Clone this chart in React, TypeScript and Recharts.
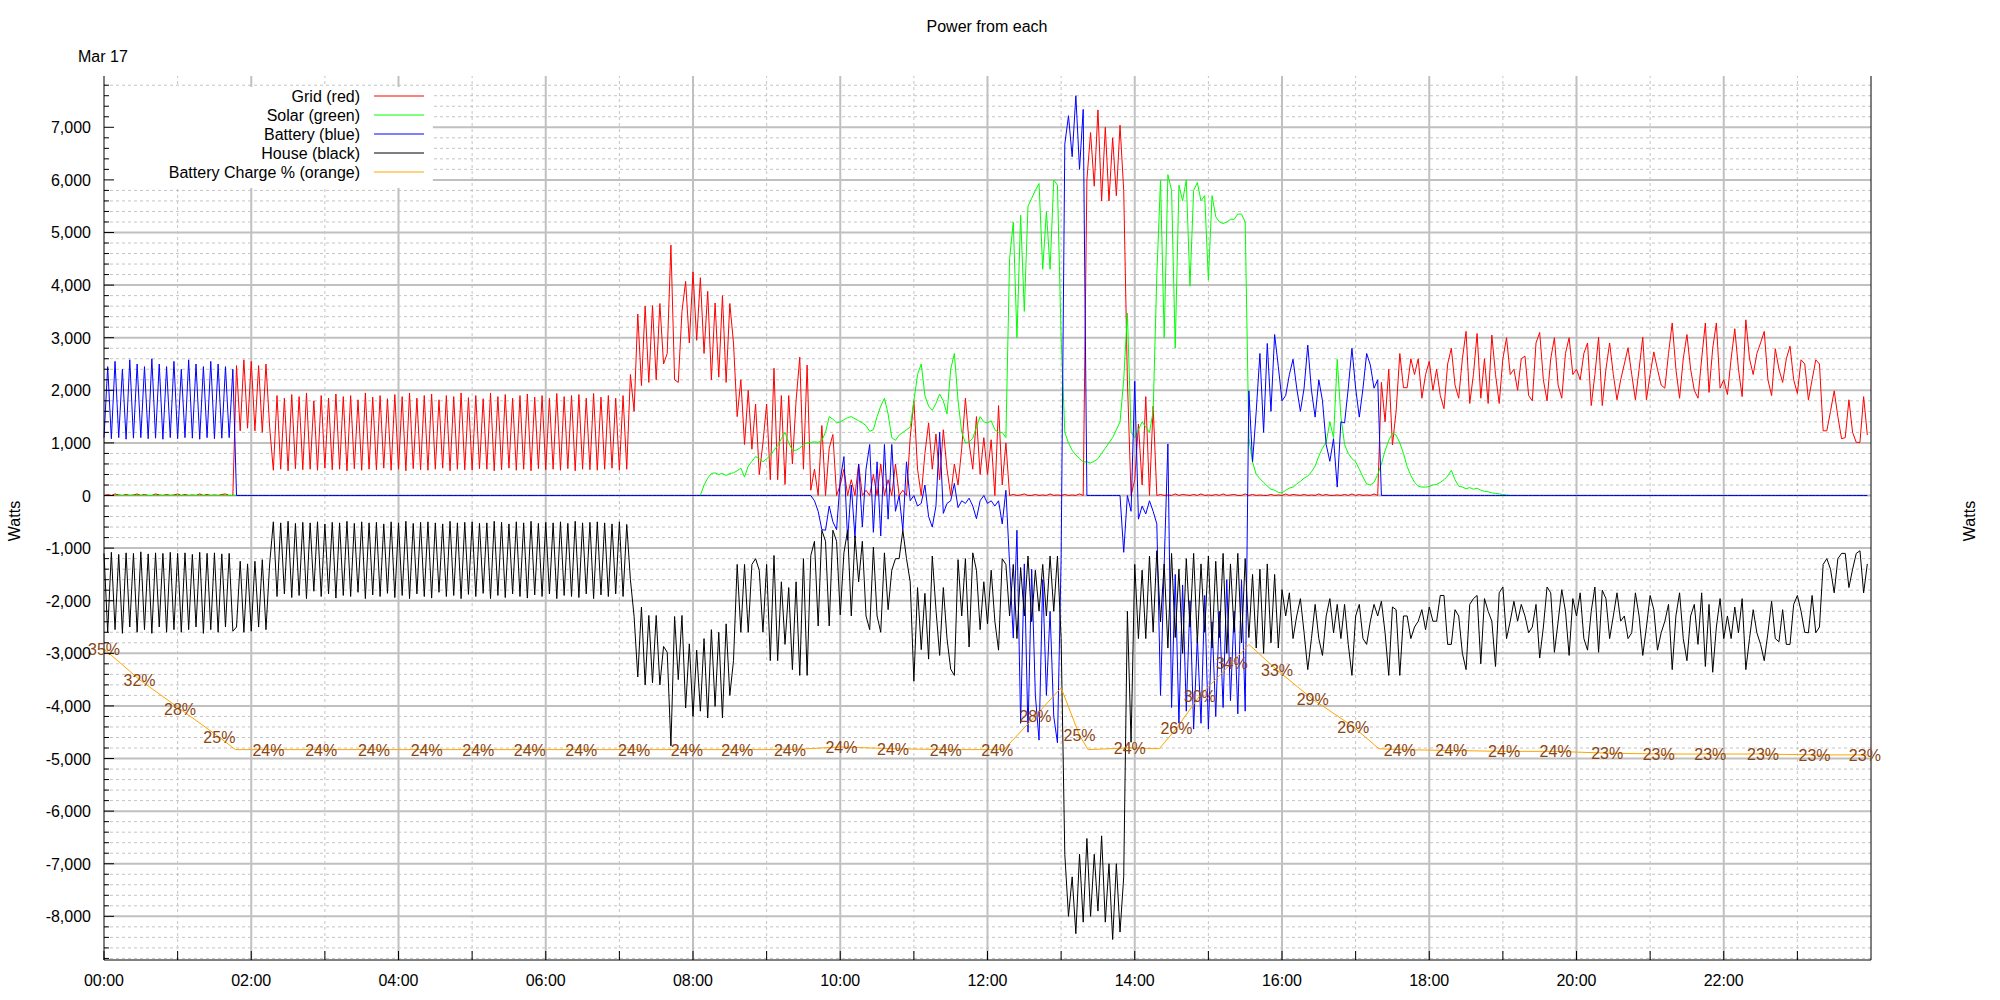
import React from "react";
import {
  LineChart,
  Line,
  XAxis,
  YAxis,
  ReferenceLine,
  ReferenceArea,
  LabelList,
} from "recharts";

// one sample every 3 minutes from 00:00, values in watts (one row = one hour)
const STEP_MIN = 3;

const gridW = [
  0, 20, 0, 30, 10, 0, 20, 0, 10, 30, 0, 20, 0, 0, 30, 10, 0, 20, 0, 10,
  30, 0, 20, 0, 10, 0, 30, 0, 20, 0, 10, 0, 20, 30, 0, 0, 2470, 1230, 2580, 1280,
  2550, 1230, 2470, 1200, 2500, 1300, 480, 1900, 500, 1850, 470, 1920, 510, 1880, 490, 1950, 500, 1800, 480, 1900,
  520, 1850, 490, 1930, 500, 1880, 470, 1900, 510, 1820, 480, 1950, 500, 1870, 490, 1900, 520, 1840, 480, 1920,
  500, 1880, 470, 1950, 510, 1850, 490, 1900, 480, 1930, 500, 1820, 520, 1900, 470, 1880, 500, 1950, 490, 1860,
  480, 1900, 510, 1840, 500, 1950, 470, 1880, 490, 1920, 520, 1850, 480, 1900, 500, 1930, 470, 1870, 510, 1900,
  490, 1850, 500, 1940, 480, 1880, 510, 1900, 470, 1920, 500, 1850, 490, 1940, 480, 1870, 500, 1900, 520, 1850,
  480, 1900, 500, 2300, 1600, 3450, 2090, 3600, 2150, 3610, 2200, 3650, 2500, 2700, 4760, 2200, 2150, 3500, 4070, 2900,
  4250, 2950, 4140, 2700, 3880, 2200, 3660, 2250, 3800, 2150, 3650, 2900, 1500, 2200, 970, 2000, 880, 1740, 400, 1000,
  1740, 300, 2420, 300, 1900, 210, 1900, 600, 1800, 2630, 500, 2480, 100, 500, 0, 1330, 0, 900, 1160, 0,
  200, 500, 0, 300, 0, 600, 0, 100, 0, 400, 0, 600, 0, 300, 0, 600, 0, 100, 0, 1100,
  1800, 500, 0, 800, 1380, 500, 1170, 300, 1250, 500, 0, 600, 200, 900, 1850, 1000, 500, 1500, 400, 1100,
  400, 1060, 0, 1710, 200, 1000, 0, 20, 0, 10, 30, 0, 0, 20, 0, 10, 0, 30, 0, 10,
  0, 20, 0, 10, 0, 30, 0, 6000, 6900, 5880, 7330, 5600, 7000, 5600, 6800, 5700, 7040, 5800, 2200, 0,
  300, 1360, 200, 1880, 0, 1700, 0, 20, 0, 10, 0, 30, 0, 20, 10, 0, 20, 0, 30, 0,
  10, 0, 20, 0, 30, 0, 10, 20, 0, 0, 30, 0, 20, 0, 10, 0, 0, 20, 0, 10,
  0, 30, 0, 20, 10, 0, 20, 0, 10, 0, 30, 0, 20, 0, 0, 10, 0, 20, 0, 30,
  0, 20, 0, 10, 0, 30, 0, 2150, 1400, 2400, 960, 1600, 2700, 2050, 2050, 2600, 2300, 2600, 1850, 2300,
  2550, 2000, 2400, 1900, 1650, 2500, 2800, 2100, 1850, 2600, 3120, 1750, 2300, 3080, 1850, 2600, 1750, 3050, 2300, 1750,
  2600, 3000, 2300, 2400, 2000, 2600, 2650, 1900, 1800, 2900, 3100, 2200, 1800, 2600, 3000, 2100, 1850, 2700, 3000, 2300,
  2400, 2200, 2700, 2900, 1710, 2300, 3010, 1710, 2400, 2900, 2300, 1820, 2200, 2500, 2810, 2300, 1820, 2400, 3010, 1820,
  2300, 2730, 2400, 2100, 2040, 2700, 3280, 2400, 1850, 2600, 3060, 2400, 2000, 1850, 2600, 3280, 1960, 2800, 3280, 2040,
  2200, 1920, 2600, 3170, 2400, 1880, 3340, 2600, 2300, 2700, 2900, 3120, 2200, 1900, 2790, 2400, 2150, 2600, 2840, 2200,
  1940, 2580, 2500, 1820, 2200, 2580, 2500, 1230, 1230, 1600, 1990, 1500, 1080, 1100, 1820, 1200, 1010, 1010, 1880, 1150,
];

const solarW = [
  0, 0, 0, 0, 0, 0, 0, 0, 0, 0, 0, 0, 0, 0, 0, 0, 0, 0, 0, 0,
  0, 0, 0, 0, 0, 0, 0, 0, 0, 0, 0, 0, 0, 0, 0, 0, 0, 0, 0, 0,
  0, 0, 0, 0, 0, 0, 0, 0, 0, 0, 0, 0, 0, 0, 0, 0, 0, 0, 0, 0,
  0, 0, 0, 0, 0, 0, 0, 0, 0, 0, 0, 0, 0, 0, 0, 0, 0, 0, 0, 0,
  0, 0, 0, 0, 0, 0, 0, 0, 0, 0, 0, 0, 0, 0, 0, 0, 0, 0, 0, 0,
  0, 0, 0, 0, 0, 0, 0, 0, 0, 0, 0, 0, 0, 0, 0, 0, 0, 0, 0, 0,
  0, 0, 0, 0, 0, 0, 0, 0, 0, 0, 0, 0, 0, 0, 0, 0, 0, 0, 0, 0,
  0, 0, 0, 0, 0, 0, 0, 0, 0, 0, 0, 0, 0, 0, 0, 0, 0, 0, 0, 0,
  0, 0, 0, 200, 330, 420, 430, 400, 420, 380, 420, 430, 470, 520, 350, 560, 650, 740, 700, 640,
  700, 760, 860, 950, 1080, 1200, 1000, 860, 860, 900, 970, 1000, 1010, 1020, 1010, 1050, 1200, 1500, 1450, 1380,
  1400, 1440, 1480, 1500, 1460, 1420, 1380, 1330, 1220, 1250, 1500, 1700, 1850, 1550, 1100, 1050, 1150, 1200, 1250, 1300,
  1800, 2300, 2500, 1900, 1700, 1620, 1750, 1930, 1800, 1550, 2400, 2700, 1800, 1200, 1000, 1020, 1090, 1300, 1500, 1400,
  1380, 1420, 1250, 1200, 1200, 1100, 4500, 5200, 3000, 5330, 3500, 5500, 5650, 5800, 5930, 4300, 5400, 4300, 6000, 5900,
  3000, 1200, 1000, 860, 770, 700, 640, 640, 620, 650, 700, 800, 900, 1000, 1100, 1250, 1400, 2200, 3470, 1200,
  1100, 1250, 1400, 1300, 1200, 1600, 4200, 6000, 3000, 6100, 5800, 2800, 5900, 5600, 6000, 3980, 5800, 5950, 5600, 5700,
  4100, 5700, 5300, 5200, 5170, 5200, 5250, 5250, 5350, 5350, 5200, 1090, 640, 400, 320, 250, 180, 120, 100, 60,
  50, 100, 140, 160, 220, 270, 330, 370, 450, 560, 750, 900, 1010, 1400, 1100, 2590, 1500, 970, 800, 700,
  640, 500, 350, 220, 200, 250, 400, 600, 850, 1050, 1180, 1150, 1000, 800, 550, 380, 250, 180, 160, 160,
  170, 200, 210, 250, 300, 370, 480, 300, 180, 160, 130, 150, 120, 140, 100, 80, 70, 50, 40, 30,
  20, 10, 0, 0, 0, 0, 0, 0, 0, 0, 0, 0, 0, 0, 0, 0, 0, 0, 0, 0,
  0, 0, 0, 0, 0, 0, 0, 0, 0, 0, 0, 0, 0, 0, 0, 0, 0, 0, 0, 0,
  0, 0, 0, 0, 0, 0, 0, 0, 0, 0, 0, 0, 0, 0, 0, 0, 0, 0, 0, 0,
  0, 0, 0, 0, 0, 0, 0, 0, 0, 0, 0, 0, 0, 0, 0, 0, 0, 0, 0, 0,
  0, 0, 0, 0, 0, 0, 0, 0, 0, 0, 0, 0, 0, 0, 0, 0, 0, 0, 0, 0,
];

const batteryW = [
  1100, 2450, 1080, 2550, 1100, 2400, 1070, 2580, 1090, 2500, 1100, 2450, 1080, 2600, 1090, 2500, 1070, 2450, 1100, 2550,
  1080, 2400, 1100, 2580, 1090, 2500, 1070, 2450, 1100, 2550, 1080, 2500, 1090, 2450, 1100, 2400, 0, 0, 0, 0,
  0, 0, 0, 0, 0, 0, 0, 0, 0, 0, 0, 0, 0, 0, 0, 0, 0, 0, 0, 0,
  0, 0, 0, 0, 0, 0, 0, 0, 0, 0, 0, 0, 0, 0, 0, 0, 0, 0, 0, 0,
  0, 0, 0, 0, 0, 0, 0, 0, 0, 0, 0, 0, 0, 0, 0, 0, 0, 0, 0, 0,
  0, 0, 0, 0, 0, 0, 0, 0, 0, 0, 0, 0, 0, 0, 0, 0, 0, 0, 0, 0,
  0, 0, 0, 0, 0, 0, 0, 0, 0, 0, 0, 0, 0, 0, 0, 0, 0, 0, 0, 0,
  0, 0, 0, 0, 0, 0, 0, 0, 0, 0, 0, 0, 0, 0, 0, 0, 0, 0, 0, 0,
  0, 0, 0, 0, 0, 0, 0, 0, 0, 0, 0, 0, 0, 0, 0, 0, 0, 0, 0, 0,
  0, 0, 0, 0, 0, 0, 0, 0, 0, 0, 0, 0, 0, -100, -300, -650, -660, -200, -500, -650,
  300, 740, -850, 200, -800, 600, -600, 500, 970, -700, 640, -770, 970, -450, 970, -300, 0, -660, 640, -100,
  0, -200, -150, 200, -400, -600, -200, 1200, -340, -150, -100, 230, -230, -100, -150, -50, -200, -440, -100, 0,
  -150, -100, -200, -100, -540, 100, -1300, -2710, -660, -4330, -1300, -4500, -1400, -3800, -4650, -1600, -3800, -2200, -4200, -4700,
  -1200, 6680, 7220, 6440, 7600, 6200, 7340, 0, 0, 0, 0, 0, 0, 0, 0, 0, 0, -1080, 0, -300,
  2170, -450, -200, -350, -100, -300, -540, -3800, -1300, 980, -4030, -1500, -4330, -1700, -4100, -2000, -4440, -2700, -4330, -1900,
  -4440, -2400, -4200, -2200, -4030, -1600, -3900, -2200, -4150, -1600, -4100, 1990, 640, 1600, 2700, 1200, 2890, 1600, 3060, 2450,
  1800, 1900, 2300, 2590, 2040, 1600, 2040, 2860, 2000, 1490, 2200, 1800, 970, 650, 1080, 160, 1400, 1380, 2040, 2800,
  2040, 1490, 2040, 2700, 2480, 2040, 2200, 0, 0, 0, 0, 0, 0, 0, 0, 0, 0, 0, 0, 0,
  0, 0, 0, 0, 0, 0, 0, 0, 0, 0, 0, 0, 0, 0, 0, 0, 0, 0, 0, 0,
  0, 0, 0, 0, 0, 0, 0, 0, 0, 0, 0, 0, 0, 0, 0, 0, 0, 0, 0, 0,
  0, 0, 0, 0, 0, 0, 0, 0, 0, 0, 0, 0, 0, 0, 0, 0, 0, 0, 0, 0,
  0, 0, 0, 0, 0, 0, 0, 0, 0, 0, 0, 0, 0, 0, 0, 0, 0, 0, 0, 0,
  0, 0, 0, 0, 0, 0, 0, 0, 0, 0, 0, 0, 0, 0, 0, 0, 0, 0, 0, 0,
  0, 0, 0, 0, 0, 0, 0, 0, 0, 0, 0, 0, 0, 0, 0, 0, 0, 0, 0, 0,
];

const houseW = [
  -1100, -2600, -1080, -2550, -1120, -2620, -1090, -2500, -1100, -2600, -1070, -2550, -1110, -2620, -1090, -2500, -1100, -2600, -1080, -2550,
  -1100, -2600, -1090, -2550, -1120, -2500, -1080, -2620, -1100, -2550, -1090, -2600, -1110, -2500, -1100, -2580, -2500, -1250, -2600, -1300,
  -2580, -1250, -2500, -1220, -2550, -1300, -500, -1920, -520, -1870, -490, -1940, -530, -1900, -510, -1960, -520, -1820, -500, -1920,
  -540, -1870, -510, -1950, -520, -1900, -490, -1920, -530, -1840, -500, -1960, -520, -1890, -510, -1920, -540, -1860, -500, -1940,
  -520, -1900, -490, -1960, -530, -1870, -510, -1920, -500, -1950, -520, -1840, -540, -1920, -490, -1900, -520, -1960, -510, -1880,
  -500, -1920, -530, -1860, -520, -1960, -490, -1900, -510, -1940, -540, -1870, -500, -1920, -520, -1950, -490, -1890, -530, -1920,
  -510, -1870, -520, -1960, -500, -1900, -530, -1920, -490, -1940, -520, -1870, -510, -1960, -500, -1890, -520, -1920, -540, -1870,
  -500, -1920, -550, -1600, -2300, -3450, -2120, -3600, -2280, -3560, -2280, -3600, -2870, -2980, -4760, -2300, -3500, -2280, -4040, -2820,
  -4200, -2940, -4100, -2720, -4230, -2550, -4010, -2600, -4230, -2440, -3800, -3140, -1310, -2600, -1310, -2600, -1310, -1200, -1420, -2600,
  -1310, -3140, -1140, -3140, -1640, -2830, -1750, -3310, -1640, -3420, -1200, -3420, -1140, -870, -2480, -660, -870, -2480, -660, -870,
  -2270, -1090, -660, -2290, -770, -1640, -870, -2290, -2550, -980, -2290, -2600, -1090, -2170, -1420, -1200, -1200, -660, -1200, -1640,
  -3530, -1750, -2930, -1860, -3110, -1150, -2170, -3040, -1750, -2720, -3300, -3420, -1220, -2290, -1200, -2880, -1090, -1420, -2550, -1640,
  -2440, -1420, -2390, -2940, -1200, -1310, -2290, -1310, -2720, -1370, -2290, -1150, -2400, -1420, -2200, -1310, -2290, -1150, -2200, -1150,
  -2720, -6820, -8000, -7250, -8330, -6820, -8110, -6520, -8000, -6820, -7900, -6470, -8110, -7000, -8440, -7000, -8300, -7250, -2200, -4690,
  -1310, -2720, -1420, -2720, -1150, -2600, -1050, -2400, -1300, -2900, -1100, -2700, -1400, -3000, -1200, -2500, -1100, -2800, -1300, -2600,
  -1150, -2900, -1250, -2700, -1100, -3000, -1300, -2600, -1100, -2800, -1200, -2700, -1500, -2900, -1400, -3000, -1300, -2800, -1500, -2900,
  -1790, -2290, -1850, -2720, -2290, -1960, -2610, -3310, -2720, -2070, -2720, -3040, -2290, -1960, -2610, -2070, -2720, -2070, -2830, -3420,
  -2290, -2070, -2720, -2830, -2390, -2070, -2290, -2010, -2610, -3420, -2120, -2170, -3420, -2290, -2290, -2720, -2500, -2390, -2170, -2550,
  -2120, -2390, -2390, -1900, -1900, -2830, -2830, -2170, -2290, -3000, -3310, -2070, -1960, -1900, -3200, -1960, -2200, -2390, -3250, -1850,
  -1740, -2720, -2390, -2010, -2390, -2070, -2290, -2610, -2500, -2070, -3090, -2500, -1740, -1850, -2980, -2400, -1790, -2200, -3040, -1960,
  -2290, -1850, -2720, -2940, -2200, -1740, -2980, -1800, -1960, -2720, -2290, -1850, -2390, -2290, -2720, -2610, -1850, -2290, -3040, -2500,
  -1900, -2170, -2940, -2610, -2390, -2070, -3310, -2290, -1850, -2720, -3140, -2290, -2070, -2830, -1850, -3250, -2070, -3360, -2500, -1960,
  -2720, -2290, -2720, -2120, -2610, -1960, -3310, -2720, -2170, -2610, -2830, -3140, -2610, -2010, -2720, -2780, -2170, -2830, -2830, -2070,
  -1900, -2200, -2600, -2610, -1900, -2610, -2500, -1310, -1200, -1400, -1850, -1200, -1100, -1100, -1750, -1400, -1100, -1050, -1850, -1300,
];

// battery state of charge: minutes since midnight, percent, label shown on the curve
const chargeTimes = [
  0, 29, 62, 94, 107, 134, 177, 220, 263, 305, 347, 389, 432, 475, 516, 559, 601, 643, 686, 728,
  734, 759, 780, 795, 802, 836, 860, 874, 893, 919, 933, 956, 985, 1018, 1039, 1056, 1098, 1141, 1183,
  1225, 1267, 1309, 1352, 1394, 1435, 1437,
];
const chargePct = [
  35.2, 31.7, 28.4, 25.2, 23.8, 23.8, 23.8, 23.8, 23.8, 23.8, 23.8, 23.8, 23.8, 23.8, 23.8, 23.8, 24.1, 23.9, 23.8, 23.8,
  23.9, 27.6, 30.8, 25.4, 23.8, 24.0, 23.9, 26.2, 29.9, 33.6, 35.7, 32.8, 29.5, 26.4, 23.9, 23.8, 23.7, 23.6, 23.6,
  23.4, 23.3, 23.3, 23.3, 23.2, 23.2, 23.2,
];
const chargeLabels = [
  "35%", "32%", "28%", "25%", "", "24%", "24%", "24%", "24%", "24%", "24%", "24%", "24%", "24%", "24%", "24%", "24%", "24%", "24%", "24%",
  "", "28%", "", "25%", "", "24%", "", "26%", "30%", "34%", "", "33%", "29%", "26%", "", "24%", "24%", "24%", "24%",
  "23%", "23%", "23%", "23%", "23%", "23%", "",
];

const xTicks = [0, 60, 120, 180, 240, 300, 360, 420, 480, 540, 600, 660, 720, 780, 840, 900, 960, 1020, 1080, 1140, 1200, 1260, 1320, 1380];
const yTicks = Array.from({ length: 84 }, (_, k) => -8800 + k * 200);

const legendItems = [
  { name: "Grid (red)", color: "#ff0000" },
  { name: "Solar (green)", color: "#00ff00" },
  { name: "Battery (blue)", color: "#0000ff" },
  { name: "House (black)", color: "#000000" },
  { name: "Battery Charge % (orange)", color: "#ffa500" },
];

const rows = gridW.map((g, i) => ({
  t: i * STEP_MIN,
  grid: g,
  solar: solarW[i],
  battery: batteryW[i],
  house: houseW[i],
}));

const chargeRows = chargeTimes.map((t, i) => ({ t, pct: chargePct[i], label: chargeLabels[i] }));

const FONT = '"Liberation Sans", Arial, Helvetica, sans-serif';
const Y_DOMAIN: [number, number] = [-8830, 7975];
const GRID_MAJOR = "#c0c0c0";
const GRID_MINOR = "#c4c4c4";

const isMajorY = (v: number) => v % 1000 === 0;
const fmtWatts = (v: number) => v.toLocaleString("en-US");
const fmtHour = (m: number) => `${String(Math.floor(m / 60)).padStart(2, "0")}:00`;

const LeftTick = (props: any) => {
  const { x, y, payload } = props;
  const v = payload.value as number;
  const major = isMajorY(v);
  return (
    <g>
      <line x1={x} y1={y} x2={x + (major ? 10 : 5)} y2={y} stroke="#000" />
      {major && (
        <text x={x - 13} y={y + 6} textAnchor="end" fontSize={16} fontFamily={FONT} fill="#000">
          {fmtWatts(v)}
        </text>
      )}
    </g>
  );
};

const RightTick = (props: any) => {
  const { x, y, payload } = props;
  const v = payload.value as number;
  const major = isMajorY(v);
  return (
    <g>
      <line x1={x} y1={y} x2={x - (major ? 10 : 5)} y2={y} stroke="#000" />
      {major && (
        <text x={x + 11} y={y + 6} textAnchor="start" fontSize={16} fontFamily={FONT} fill="#000">
          {fmtWatts(v)}
        </text>
      )}
    </g>
  );
};

const BottomTick = (props: any) => {
  const { x, y, payload } = props;
  const m = payload.value as number;
  const major = m % 120 === 0;
  return (
    <g>
      <line x1={x} y1={y} x2={x} y2={y - 9} stroke="#000" />
      {major && (
        <text x={x} y={y + 26} textAnchor="middle" fontSize={16} fontFamily={FONT} fill="#000">
          {fmtHour(m)}
        </text>
      )}
    </g>
  );
};

const TopTick = (props: any) => {
  const { x, y, payload } = props;
  const major = (payload.value as number) % 120 === 0;
  return <line x1={x} y1={y} x2={x} y2={y + (major ? 10 : 5)} stroke="#000" />;
};

const ChargeLabel = (props: any) => {
  const { value } = props;
  const x = props.x ?? props.viewBox?.x;
  const y = props.y ?? props.viewBox?.y;
  if (!value) return null;
  return (
    <text x={x} y={y + 6} textAnchor="middle" fontSize={16} fontFamily={FONT} fill="#8b4513">
      {value}
    </text>
  );
};

export default function App() {
  return (
    <div style={{ position: "absolute", left: 0, top: 0, width: 2000, height: 1000, background: "#fff", fontFamily: FONT }}>
      <LineChart width={2000} height={1000} data={rows} margin={{ top: 76, right: 0, bottom: 0, left: 0 }}>
        {yTicks.map((v) => (
          <ReferenceLine
            key={`gy${v}`}
            xAxisId="b"
            yAxisId="left"
            y={v}
            stroke={isMajorY(v) ? GRID_MAJOR : GRID_MINOR}
            strokeWidth={isMajorY(v) ? 2 : 1}
            strokeDasharray={isMajorY(v) ? undefined : "3 3"}
            zIndex={-100}
          />
        ))}
        {xTicks.slice(1).map((m) => (
          <ReferenceLine
            key={`gx${m}`}
            xAxisId="b"
            yAxisId="left"
            x={m}
            stroke={m % 120 === 0 ? GRID_MAJOR : GRID_MINOR}
            strokeWidth={m % 120 === 0 ? 2 : 1}
            strokeDasharray={m % 120 === 0 ? undefined : "3 3"}
            zIndex={-100}
          />
        ))}
        {/* white box behind the key */}
        <ReferenceArea xAxisId="b" yAxisId="left" x1={0} x2={268} y1={5846} y2={7766} fill="#fff" fillOpacity={1} stroke="none" zIndex={-50} />

        <Line type="linear" dataKey="grid" name="Grid (red)" xAxisId="b" yAxisId="left" stroke="#ff0000" strokeWidth={1} dot={false} isAnimationActive={false} />
        <Line type="linear" dataKey="solar" name="Solar (green)" xAxisId="b" yAxisId="left" stroke="#00ff00" strokeWidth={1} dot={false} isAnimationActive={false} />
        <Line type="linear" dataKey="battery" name="Battery (blue)" xAxisId="b" yAxisId="left" stroke="#0000ff" strokeWidth={1} dot={false} isAnimationActive={false} />
        <Line type="linear" dataKey="house" name="House (black)" xAxisId="b" yAxisId="left" stroke="#000000" strokeWidth={1} dot={false} isAnimationActive={false} />
        <Line
          type="linear"
          data={chargeRows}
          dataKey="pct"
          name="Battery Charge % (orange)"
          xAxisId="b"
          yAxisId="pct"
          stroke="#ffa500"
          strokeWidth={1}
          dot={false}
          isAnimationActive={false}
        >
          <LabelList dataKey="label" content={ChargeLabel} />
        </Line>

        <XAxis
          xAxisId="b"
          dataKey="t"
          type="number"
          domain={[0, 1440]}
          ticks={xTicks}
          interval={0}
          height={40}
          tickSize={0}
          tickMargin={0}
          tickLine={false}
          axisLine={{ stroke: "#000" }}
          tick={BottomTick}
        />
        <XAxis
          xAxisId="t"
          orientation="top"
          dataKey="t"
          type="number"
          domain={[0, 1440]}
          ticks={xTicks}
          interval={0}
          height={0}
          tickSize={0}
          tickMargin={0}
          tickLine={false}
          axisLine={{ stroke: "#000" }}
          tick={TopTick}
        />
        <YAxis
          yAxisId="left"
          type="number"
          domain={Y_DOMAIN}
          ticks={yTicks}
          interval={0}
          width={104}
          tickSize={0}
          tickMargin={0}
          tickLine={false}
          axisLine={{ stroke: "#000" }}
          tick={LeftTick}
        />
        <YAxis
          yAxisId="right"
          orientation="right"
          type="number"
          domain={Y_DOMAIN}
          ticks={yTicks}
          interval={0}
          width={129}
          tickSize={0}
          tickMargin={0}
          tickLine={false}
          axisLine={{ stroke: "#000" }}
          tick={RightTick}
        />
        <YAxis yAxisId="pct" type="number" domain={[0, 100]} hide />
      </LineChart>

      <svg width={2000} height={1000} style={{ position: "absolute", left: 0, top: 0, pointerEvents: "none" }}>
        <text x={987} y={32} textAnchor="middle" fontSize={16} fontFamily={FONT} fill="#000">
          Power from each
        </text>
        <text x={78} y={62} fontSize={16} fontFamily={FONT} fill="#000">
          Mar 17
        </text>
        <text x={14} y={527} transform="rotate(-90 14 521)" textAnchor="middle" fontSize={16} fontFamily={FONT} fill="#000">
          Watts
        </text>
        <text x={1969} y={527} transform="rotate(-90 1969 521)" textAnchor="middle" fontSize={16} fontFamily={FONT} fill="#000">
          Watts
        </text>
        {legendItems.map((item, i) => {
          const cy = 96 + i * 19;
          return (
            <g key={item.name}>
              <text x={360} y={cy + 6} textAnchor="end" fontSize={16} fontFamily={FONT} fill="#000">
                {item.name}
              </text>
              <line x1={374} x2={424} y1={cy} y2={cy} stroke={item.color} strokeWidth={1} />
            </g>
          );
        })}
      </svg>
    </div>
  );
}
